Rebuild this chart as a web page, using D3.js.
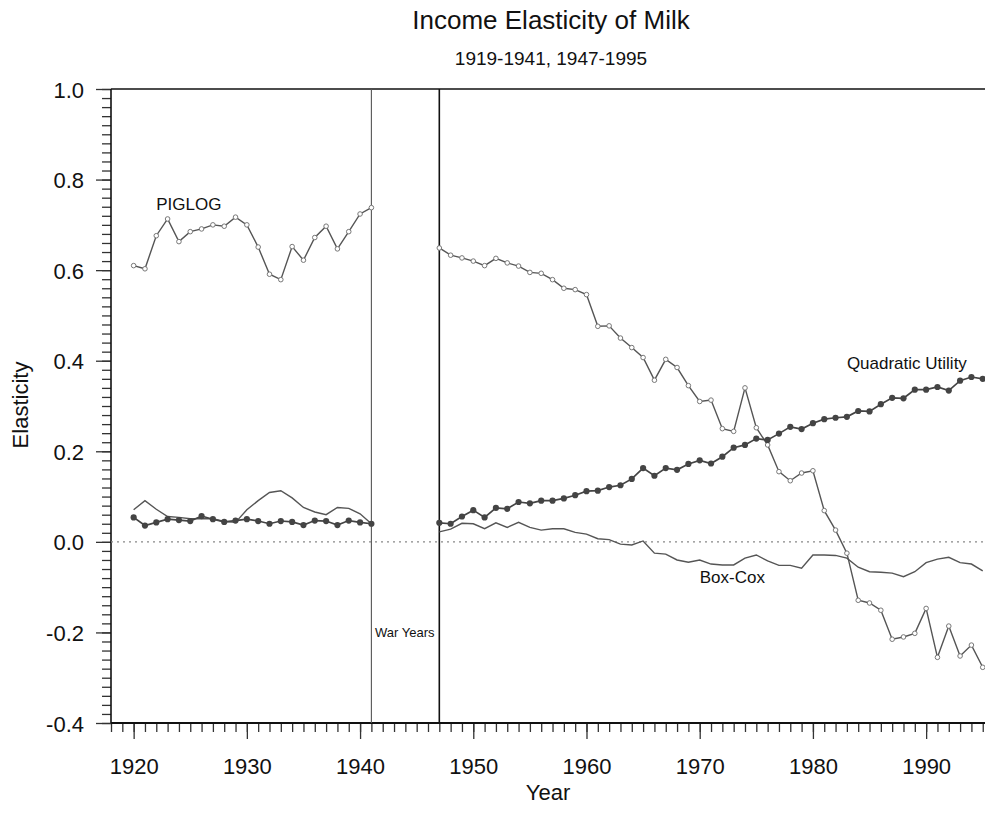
<!DOCTYPE html>
<html>
<head>
<meta charset="utf-8">
<script src="https://cdn.jsdelivr.net/npm/d3@7"></script>
<style>
    body { margin: 0; background: #fff; }
    svg text { font-family: "Liberation Sans", Arial, Helvetica, sans-serif; fill: #111; }
</style>
</head>
<body>
<svg id="chart" width="985" height="816"></svg>
<script>
/*global d3*/

//years of the two sample periods
var prewarYears = [1920, 1921, 1922, 1923, 1924, 1925, 1926, 1927, 1928, 1929, 1930,
        1931, 1932, 1933, 1934, 1935, 1936, 1937, 1938, 1939, 1940, 1941],
    postwarYears = [1947, 1948, 1949, 1950, 1951, 1952, 1953, 1954, 1955, 1956,
        1957, 1958, 1959, 1960, 1961, 1962, 1963, 1964, 1965, 1966,
        1967, 1968, 1969, 1970, 1971, 1972, 1973, 1974, 1975, 1976,
        1977, 1978, 1979, 1980, 1981, 1982, 1983, 1984, 1985, 1986,
        1987, 1988, 1989, 1990, 1991, 1992, 1993, 1994, 1995];

//PIGLOG elasticities (open circles)
var piglogPre = [0.610, 0.603, 0.676, 0.713, 0.663, 0.685, 0.691, 0.700, 0.697, 0.717, 0.700,
        0.651, 0.591, 0.579, 0.652, 0.622, 0.672, 0.697, 0.647, 0.685, 0.724, 0.738],
    piglogPost = [0.649, 0.633, 0.627, 0.620, 0.610, 0.626, 0.616, 0.609, 0.595, 0.593,
        0.579, 0.560, 0.557, 0.546, 0.476, 0.477, 0.450, 0.429, 0.407, 0.357,
        0.403, 0.385, 0.345, 0.310, 0.313, 0.250, 0.244, 0.340, 0.252, 0.214,
        0.155, 0.135, 0.152, 0.157, 0.069, 0.026, -0.025, -0.129, -0.135, -0.151,
        -0.215, -0.210, -0.202, -0.147, -0.255, -0.186, -0.252, -0.228, -0.277];

//Quadratic Utility elasticities (filled dots)
var quadPre = [0.054, 0.036, 0.043, 0.050, 0.048, 0.046, 0.057, 0.050, 0.044, 0.047, 0.050,
        0.046, 0.040, 0.046, 0.044, 0.037, 0.047, 0.046, 0.037, 0.047, 0.043, 0.040],
    quadPost = [0.042, 0.040, 0.056, 0.070, 0.054, 0.075, 0.073, 0.088, 0.085, 0.091,
        0.091, 0.096, 0.103, 0.112, 0.113, 0.121, 0.125, 0.139, 0.163, 0.146,
        0.163, 0.159, 0.172, 0.180, 0.173, 0.188, 0.208, 0.214, 0.228, 0.225,
        0.239, 0.254, 0.249, 0.262, 0.271, 0.274, 0.276, 0.289, 0.288, 0.304,
        0.318, 0.317, 0.336, 0.336, 0.342, 0.334, 0.356, 0.364, 0.360];

//Box-Cox elasticities (plain line)
var boxPre = [0.071, 0.091, 0.072, 0.056, 0.054, 0.051, 0.051, 0.051, 0.045, 0.043, 0.071,
        0.091, 0.109, 0.113, 0.097, 0.076, 0.066, 0.060, 0.076, 0.074, 0.062, 0.040],
    boxPost = [0.022, 0.028, 0.041, 0.040, 0.029, 0.042, 0.032, 0.043, 0.032, 0.026,
        0.029, 0.029, 0.021, 0.017, 0.007, 0.005, -0.005, -0.007, 0.002, -0.025,
        -0.027, -0.040, -0.045, -0.040, -0.049, -0.051, -0.051, -0.036, -0.029, -0.042,
        -0.052, -0.052, -0.058, -0.029, -0.029, -0.030, -0.036, -0.056, -0.066, -0.067,
        -0.069, -0.077, -0.066, -0.046, -0.038, -0.034, -0.046, -0.049, -0.064];

//tick labels
var xMajorTicks = [1920, 1930, 1940, 1950, 1960, 1970, 1980, 1990],
    yMajorTicks = [-0.4, -0.2, 0.0, 0.2, 0.4, 0.6, 0.8, 1.0],
    warYears = [1941, 1947];

//series labels, placed in data units
var seriesLabels = [
    {text: "PIGLOG", year: 1922.0, value: 0.733},
    {text: "Quadratic Utility", year: 1983.0, value: 0.382},
    {text: "Box-Cox", year: 1970.0, value: -0.091}
];

var svg = d3.select("#chart"),
    plotLeft = 111,
    plotRight = 985,
    plotTop = 89,
    plotBottom = 723;

var x = d3.scaleLinear().domain([1918, 1995.2]).range([plotLeft, plotRight]),
    y = d3.scaleLinear().domain([-0.4, 1.0]).range([plotBottom, plotTop]);

function zipSeries(years, values) {
    "use strict";
    return years.map(function (yr, i) { return {year: yr, value: values[i]}; });
}

var line = d3.line()
    .x(function (d) { return x(d.year); })
    .y(function (d) { return y(d.value); });

//minor ticks: every year, every 0.02
var xMinor = d3.range(1918, 1996),
    yMinor = d3.range(-20, 51).map(function (k) { return Math.round(k * 2) / 100; });

//x axis
var xMinorAxis = d3.axisBottom(x).tickValues(xMinor).tickSize(9).tickSizeOuter(0).tickFormat("");
var xMajorAxis = d3.axisBottom(x).tickValues(xMajorTicks).tickSize(16).tickSizeOuter(0)
    .tickFormat(function (d) { return String(d); });

var gx = svg.append("g").attr("transform", "translate(0," + plotBottom + ")");
gx.append("g").call(xMinorAxis);
gx.append("g").call(xMajorAxis);
gx.selectAll(".domain").remove();
gx.selectAll("line").attr("stroke", "#333").attr("stroke-width", 1.3);
gx.selectAll("text").attr("font-size", 22).attr("fill", "#111").attr("dy", null).attr("y", 51);

//y axis
var yMinorAxis = d3.axisLeft(y).tickValues(yMinor).tickSize(9).tickSizeOuter(0).tickFormat("");
var yMajorAxis = d3.axisLeft(y).tickValues(yMajorTicks).tickSize(15).tickSizeOuter(0)
    .tickFormat(function (d) { return d.toFixed(1); });

var gy = svg.append("g").attr("transform", "translate(" + plotLeft + ",0)");
gy.append("g").call(yMinorAxis);
gy.append("g").call(yMajorAxis);
gy.selectAll(".domain").remove();
gy.selectAll("line").attr("stroke", "#333").attr("stroke-width", 1.3);
gy.selectAll("text").attr("font-size", 22).attr("fill", "#111").attr("dy", null)
    .attr("x", -27).attr("y", 8);

//frame: left, bottom and top lines
svg.append("line").attr("x1", plotLeft).attr("x2", plotLeft).attr("y1", plotTop).attr("y2", plotBottom)
    .attr("stroke", "#111").attr("stroke-width", 1.6);
svg.append("line").attr("x1", plotLeft).attr("x2", plotRight).attr("y1", plotBottom).attr("y2", plotBottom)
    .attr("stroke", "#111").attr("stroke-width", 2);
svg.append("line").attr("x1", plotLeft).attr("x2", plotRight).attr("y1", plotTop).attr("y2", plotTop)
    .attr("stroke", "#111").attr("stroke-width", 1.6);

//zero reference
svg.append("line").attr("x1", plotLeft).attr("x2", plotRight).attr("y1", y(0)).attr("y2", y(0))
    .attr("stroke", "#888").attr("stroke-width", 1.2).attr("stroke-dasharray", "2,4");

//war years boundaries
svg.selectAll(".war")
    .data(warYears)
    .enter().append("line")
        .attr("class", "war")
        .attr("x1", function (d) { return x(d); })
        .attr("x2", function (d) { return x(d); })
        .attr("y1", plotTop)
        .attr("y2", plotBottom)
        .attr("stroke", function (d, i) { return i === 0 ? "#555" : "#111"; })
        .attr("stroke-width", function (d, i) { return i === 0 ? 1.1 : 1.6; });

svg.append("text")
    .attr("x", x(1941.32))
    .attr("y", y(-0.2105))
    .attr("font-size", 13)
    .text("War Years");

var periods = [
    {box: zipSeries(prewarYears, boxPre), quad: zipSeries(prewarYears, quadPre), piglog: zipSeries(prewarYears, piglogPre)},
    {box: zipSeries(postwarYears, boxPost), quad: zipSeries(postwarYears, quadPost), piglog: zipSeries(postwarYears, piglogPost)}
];

periods.forEach(function (p) {
    //Box-Cox
    svg.append("path").datum(p.box)
        .attr("d", line).attr("fill", "none")
        .attr("stroke", "#555").attr("stroke-width", 1.4);
    //PIGLOG
    svg.append("path").datum(p.piglog)
        .attr("d", line).attr("fill", "none")
        .attr("stroke", "#555").attr("stroke-width", 1.4);
    svg.append("g").selectAll("circle")
        .data(p.piglog)
        .enter().append("circle")
            .attr("cx", function (d) { return x(d.year); })
            .attr("cy", function (d) { return y(d.value); })
            .attr("r", 2.3)
            .attr("fill", "#fff")
            .attr("stroke", "#777")
            .attr("stroke-width", 1);
    //Quadratic Utility
    svg.append("path").datum(p.quad)
        .attr("d", line).attr("fill", "none")
        .attr("stroke", "#444").attr("stroke-width", 1.7);
    svg.append("g").selectAll("circle")
        .data(p.quad)
        .enter().append("circle")
            .attr("cx", function (d) { return x(d.year); })
            .attr("cy", function (d) { return y(d.value); })
            .attr("r", 3.1)
            .attr("fill", "#444");
});

svg.selectAll(".series-label")
    .data(seriesLabels)
    .enter().append("text")
        .attr("class", "series-label")
        .attr("x", function (d) { return x(d.year); })
        .attr("y", function (d) { return y(d.value); })
        .attr("font-size", 17)
        .text(function (d) { return d.text; });

//titles
var mid = (plotLeft + plotRight) / 2;
svg.append("text").attr("x", mid + 3).attr("y", 29).attr("text-anchor", "middle")
    .attr("font-size", 26).text("Income Elasticity of Milk");
svg.append("text").attr("x", mid + 3).attr("y", 65).attr("text-anchor", "middle")
    .attr("font-size", 19).text("1919-1941, 1947-1995");
svg.append("text").attr("x", mid).attr("y", 800).attr("text-anchor", "middle")
    .attr("font-size", 22).text("Year");
svg.append("text")
    .attr("transform", "translate(28,405) rotate(-90)")
    .attr("text-anchor", "middle")
    .attr("font-size", 22)
    .text("Elasticity");
</script>
</body>
</html>
